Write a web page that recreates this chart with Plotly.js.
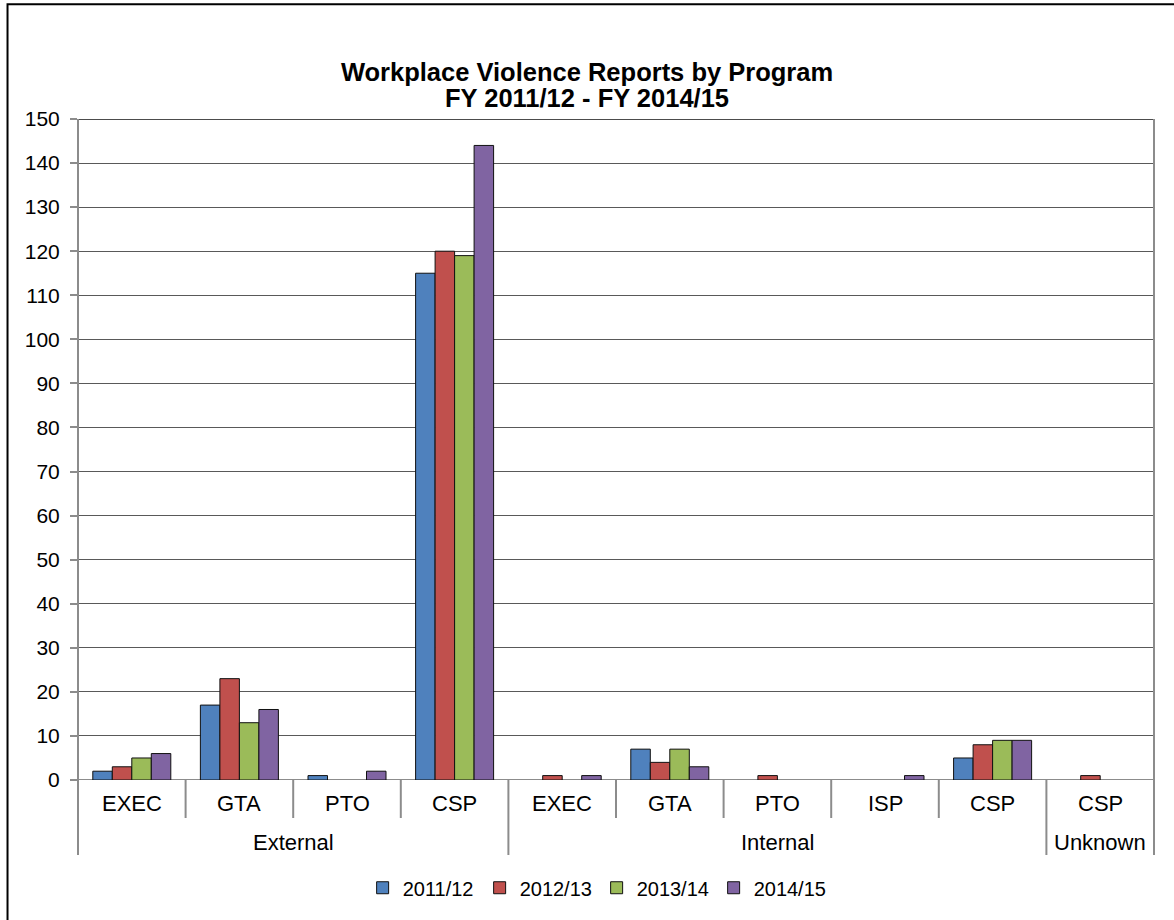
<!DOCTYPE html>
<html>
<head>
<meta charset="utf-8">
<script src="https://cdn.plot.ly/plotly-3.0.1.min.js"></script>
<style>
  html, body { margin: 0; padding: 0; background: #fff; }
  #chart { width: 1174px; height: 920px; }
</style>
</head>
<body>
<div id="chart"></div>
<script>
// ---- Data ----
const groups   = ['External', 'External', 'External', 'External', 'Internal', 'Internal', 'Internal', 'Internal', 'Internal', 'Unknown'];
const programs = ['EXEC', 'GTA', 'PTO', 'CSP', 'EXEC', 'GTA', 'PTO', 'ISP', 'CSP', 'CSP'];
const seriesNames = ['2011/12', '2012/13', '2013/14', '2014/15'];
const fy2011_12 = [2, 17, 1, 115, 0, 7, 0, 0, 5, 0];
const fy2012_13 = [3, 23, 0, 120, 1, 4, 1, 0, 8, 1];
const fy2013_14 = [5, 13, 0, 119, 0, 7, 0, 0, 9, 0];
const fy2014_15 = [6, 16, 2, 144, 1, 3, 0, 1, 9, 0];
const yTicks = [0, 10, 20, 30, 40, 50, 60, 70, 80, 90, 100, 110, 120, 130, 140, 150];
const titleLine1 = 'Workplace Violence Reports by Program';
const titleLine2 = 'FY 2011/12 - FY 2014/15';

const seriesValues = [fy2011_12, fy2012_13, fy2013_14, fy2014_15];
const colors = ['#4F81BD', '#C0504D', '#9BBB59', '#8064A2'];
const FONT = 'Liberation Sans, Arial, sans-serif';

const idx = programs.map((_, i) => i);
const traces = seriesNames.map((name, s) => ({
  type: 'bar',
  name: name,
  x: idx,
  y: seriesValues[s],
  marker: {
    color: colors[s],
    line: { color: '#111', width: seriesValues[s].map(v => (v === 0 ? 0 : 1)) }
  },
  hoverinfo: 'skip'
}));

// axis geometry helpers
const xr = [-0.5, programs.length - 0.5];
const px = v => (v - xr[0]) / (xr[1] - xr[0]);
const yCatLine = -0.0575;   // bottom of category separators
const yGrpLine = -0.1135;   // bottom of group separators
const axisGray = '#8c8c8c';

const shapes = [];
shapes.push({ type: 'line', xref: 'paper', yref: 'y', x0: 0, x1: 1, y0: 0, y1: 0, layer: 'below', line: { color: axisGray, width: 2 } });
shapes.push({ type: 'line', xref: 'paper', yref: 'y', x0: 0, x1: 1, y0: yTicks[yTicks.length - 1], y1: yTicks[yTicks.length - 1], line: { color: '#111', width: 1.5 } });
shapes.push({ type: 'line', xref: 'paper', yref: 'paper', x0: 0, x1: 0, y0: yGrpLine, y1: 1, line: { color: axisGray, width: 2 } });
shapes.push({ type: 'line', xref: 'paper', yref: 'paper', x0: 1, x1: 1, y0: yGrpLine, y1: 1, line: { color: axisGray, width: 2 } });
for (let i = 0; i < programs.length - 1; i++) {
  const groupBreak = groups[i] !== groups[i + 1];
  shapes.push({
    type: 'line', xref: 'paper', yref: 'paper',
    x0: px(i + 0.5), x1: px(i + 0.5), y0: groupBreak ? yGrpLine : yCatLine, y1: 0,
    line: { color: axisGray, width: 2 }
  });
}
// outer chart border
shapes.push({ type: 'rect', xref: 'paper', yref: 'paper', x0: -0.0655, x1: 1.2, y0: -0.3, y1: 1.1735, line: { color: '#000', width: 2 }, fillcolor: 'rgba(0,0,0,0)' });

const annotations = [];
programs.forEach((p, i) => {
  annotations.push({ xref: 'x', yref: 'paper', x: i, y: -0.0348, text: p, showarrow: false, yanchor: 'middle', xanchor: 'center', font: { family: FONT, size: 22, color: '#000' } });
});
let start = 0;
for (let i = 1; i <= groups.length; i++) {
  if (i === groups.length || groups[i] !== groups[start]) {
    annotations.push({ xref: 'x', yref: 'paper', x: (start + i - 1) / 2, y: -0.0953, text: groups[start], showarrow: false, yanchor: 'middle', xanchor: 'center', font: { family: FONT, size: 22, color: '#000' } });
    start = i;
  }
}
// second title line
annotations.push({ xref: 'paper', yref: 'paper', x: 0.473, y: 1.0318, text: '<b>' + titleLine2 + '</b>', showarrow: false, xanchor: 'center', yanchor: 'middle', font: { family: FONT, size: 25.5, color: '#000' } });

const layout = {
  width: 1174, height: 920,
  paper_bgcolor: '#fff', plot_bgcolor: '#fff',
  margin: { l: 78, r: 20, t: 119, b: 140 },
  font: { family: FONT, size: 20, color: '#000' },
  title: {
    text: '<b>' + titleLine1 + '</b>',
    font: { family: FONT, size: 25.5, color: '#000' },
    x: 0.5, xref: 'container', xanchor: 'center',
    y: 1 - 72 / 920, yref: 'container', yanchor: 'middle'
  },
  barmode: 'group', bargap: 0.275, bargroupgap: 0,
  xaxis: { range: xr, showticklabels: false, showgrid: false, zeroline: false, showline: false, ticks: '', fixedrange: true },
  yaxis: {
    range: [yTicks[0], yTicks[yTicks.length - 1]], tickvals: yTicks, ticktext: yTicks.map(String),
    showgrid: true, gridcolor: '#595959', gridwidth: 1,
    zeroline: false, showline: false,
    ticks: 'outside', ticklen: 7, tickcolor: axisGray, tickwidth: 2, ticklabelstandoff: 6,
    tickfont: { family: FONT, size: 21, color: '#000' }, fixedrange: true
  },
  showlegend: true,
  legend: {
    orientation: 'h', x: 0.482, xanchor: 'center', y: -0.163, yanchor: 'middle',
    font: { family: FONT, size: 20, color: '#000' }, itemwidth: 30, traceorder: 'normal',
    entrywidth: 72
  },
  shapes: shapes,
  annotations: annotations
};

Plotly.newPlot('chart', traces, layout, { displayModeBar: false, staticPlot: true });
</script>
</body>
</html>
